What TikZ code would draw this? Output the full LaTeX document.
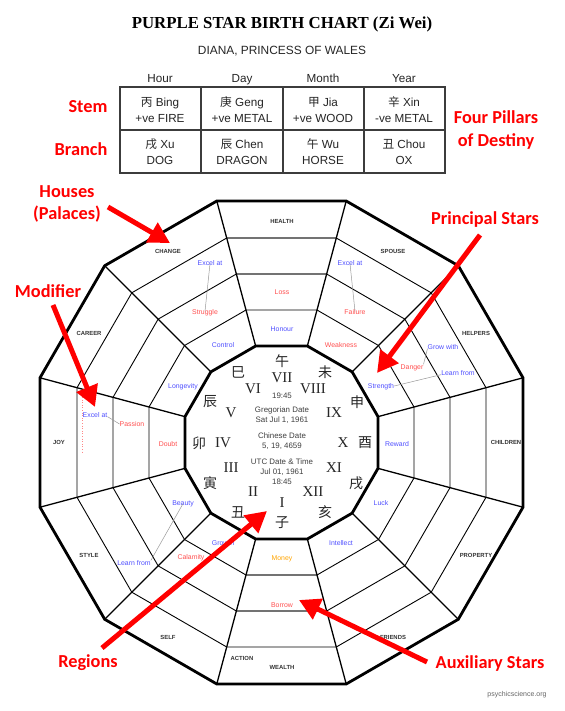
\documentclass[tikz,border=0pt]{standalone}
\usepackage{fontspec}
\setmainfont{Liberation Sans}
\newfontfamily\seriffont{Liberation Serif}
\newfontfamily\calfont{Carlito}
\newfontfamily\cjk{Noto Sans CJK SC}
\usetikzlibrary{arrows.meta}
\definecolor{starblue}{RGB}{80,80,255}
\definecolor{starred}{RGB}{255,80,80}
\definecolor{starorange}{RGB}{255,165,0}
\definecolor{linegray}{RGB}{115,115,115}
\definecolor{annred}{RGB}{255,0,0}
\definecolor{tablegray}{RGB}{60,60,60}
\tikzset{
  house/.style={font=\fontsize{5.9}{6}\selectfont\bfseries, text=black!80, inner sep=0pt, text height=4.2pt, text depth=0pt},
  sb/.style={font=\fontsize{6.9}{7}\selectfont, text=starblue, inner sep=0pt, text height=4.9pt, text depth=0pt},
  sr/.style={sb, text=starred},
  so/.style={sb, text=starorange},
  ann/.style={font=\calfont\bfseries\fontsize{18.3}{22.5}\selectfont, text=annred, align=center, inner sep=0pt},
  annarrow/.style={draw=annred, line width=5pt, -{Triangle[length=21pt,width=22pt]}},
  cell/.style={font=\fontsize{11.7}{16}\selectfont, text=black!85, align=center, inner sep=0pt},
  hdr/.style={font=\fontsize{11.7}{14}\selectfont, text=black!85, inner sep=0pt, text height=8.4pt, text depth=0pt},
  ctext/.style={font=\fontsize{7.9}{10}\selectfont, text=black!75, align=center, inner sep=0pt},
  roman/.style={font=\seriffont\fontsize{15}{15}\selectfont, text=black!85, inner sep=0pt},
  branch/.style={font=\cjk\fontsize{14}{14}\selectfont, text=black!85, inner sep=0pt},
  ring/.style={line width=0.9pt, draw=black},
  rim/.style={line width=2.8pt, draw=black, line join=miter},
  radial/.style={line width=1.3pt, draw=black},
  grayring/.style={line width=1.6pt, draw=linegray},
  link/.style={draw=black!40, line width=0.5pt},
}
\begin{document}
\begin{tikzpicture}[x=1pt,y=-1pt]
\useasboundingbox (0,0) rectangle (564,711);
\fill[white] (0,0) rectangle (564,711);

% title
\node[font=\seriffont\bfseries\fontsize{16.8}{18}\selectfont, inner sep=0pt] (title) at (282,24) {PURPLE STAR BIRTH CHART (Zi Wei)};
\node[font=\fontsize{11.9}{13}\selectfont, text=black!85, inner sep=0pt] (subtitle) at (282,51) {DIANA, PRINCESS OF WALES};

% table
\node[hdr] (hHour) at (160,78) {Hour};
\node[hdr] (hDay) at (242,78) {Day};
\node[hdr] (hMonth) at (323,78) {Month};
\node[hdr] (hYear) at (404,78) {Year};
\draw[draw=tablegray, line width=1.8pt] (120,87) rectangle (445,173);
\draw[draw=tablegray, line width=1.5pt] (120,130) -- (445,130);
\foreach \xx in {201,283,364} \draw[draw=tablegray, line width=1.5pt] (\xx,87) -- (\xx,173);
\node[cell] (s1) at (160,110) {{\cjk 丙} Bing\\+ve FIRE};
\node[cell] (s2) at (242,110) {{\cjk 庚} Geng\\+ve METAL};
\node[cell] (s3) at (323,110) {{\cjk 甲} Jia\\+ve WOOD};
\node[cell] (s4) at (404,110) {{\cjk 辛} Xin\\-ve METAL};
\node[cell] (b1) at (160,152) {{\cjk 戌} Xu\\DOG};
\node[cell] (b2) at (242,152) {{\cjk 辰} Chen\\DRAGON};
\node[cell] (b3) at (323,152) {{\cjk 午} Wu\\HORSE};
\node[cell] (b4) at (404,152) {{\cjk 丑} Chou\\OX};

% chart geometry
\begin{scope}[shift={(281.5,442.5)}, yscale=-1]
  \foreach \r in {211.71,174.45,137.17} {
    \draw[ring] (15:\r) \foreach \k in {1,...,11}{ -- ({15+30*\k}:\r)} -- cycle;
  }
  % gray ring segments
  \draw[grayring] (75:211.71) -- (105:211.71);
  \draw[grayring] (75:174.45) -- (105:174.45);
  \draw[grayring] (-75:137.17) -- (-105:137.17);
  \draw[grayring] (-75:174.45) -- (-105:174.45);
  \foreach \k in {0,...,11} \draw[radial] ({15+30*\k}:99.9) -- ({15+30*\k}:250.02);
  \draw[rim] (15:250.02) \foreach \k in {1,...,11}{ -- ({15+30*\k}:250.02)} -- cycle;
  \draw[rim] (15:99.9) \foreach \k in {1,...,11}{ -- ({15+30*\k}:99.9)} -- cycle;
\end{scope}

% pink dotted line
\draw[draw=pink!70!red, dotted, line width=0.6pt] (82,397) -- (82,452);

% house labels
\node[house] (hHealth) at (282,221) {HEALTH};
\node[house] (hSpouse) at (393,251) {SPOUSE};
\node[house] (hHelpers) at (476,333) {HELPERS};
\node[house] (hChildren) at (506,442) {CHILDREN};
\node[house] (hProperty) at (476,555) {PROPERTY};
\node[house] (hFriends) at (393,637) {FRIENDS};
\node[house] (hWealth) at (282,667) {WEALTH};
\node[house] (hAction) at (242,658) {ACTION};
\node[house] (hSelf) at (168,637) {SELF};
\node[house] (hStyle) at (89,555) {STYLE};
\node[house] (hJoy) at (59,442) {JOY};
\node[house] (hCareer) at (89,333) {CAREER};
\node[house] (hChange) at (168,251) {CHANGE};

% stars
\node[sb] (exA) at (210,263) {Excel at};
\node[sr] (strug) at (205,312) {Struggle};
\node[sb] (control) at (223,345) {Control};
\node[sr] (loss) at (282,292) {Loss};
\node[sb] (honour) at (282,329) {Honour};
\node[sb] (exB) at (350,263) {Excel at};
\node[sr] (failure) at (355,312) {Failure};
\node[sr] (weak) at (341,345) {Weakness};
\node[sb] (grow) at (443,347) {Grow with};
\node[sr] (danger) at (412,367) {Danger};
\node[sb] (learnA) at (458,373) {Learn from};
\node[sb] (strength) at (381,386) {Strength};
\node[sb] (reward) at (397,444) {Reward};
\node[sb] (luck) at (381,503) {Luck};
\node[sb] (intellect) at (341,543) {Intellect};
\node[so] (money) at (282,558) {Money};
\node[sr] (borrow) at (282,605) {Borrow};
\node[sb] (growth) at (223,543) {Growth};
\node[sr] (calamity) at (191,557) {Calamity};
\node[sb] (learnB) at (134,563) {Learn from};
\node[sb] (beauty) at (183,503) {Beauty};
\node[sr] (doubt) at (168,444) {Doubt};
\node[sb] (longev) at (183,386) {Longevity};
\node[sb] (exC) at (95,415) {Excel at};
\node[sr] (passion) at (132,424) {Passion};

% links between stars
\draw[link] ([yshift=2pt]exA.south) -- ([yshift=-2pt]strug.north);
\draw[link] ([yshift=2pt]exB.south) -- ([yshift=-2pt]failure.north);
\draw[link] ([yshift=1pt]grow.south west) -- (danger.north east);
\draw[link] (strength.east) -- ([yshift=1pt]learnA.south west);
\draw[link] ([yshift=1pt]exC.south east) -- (passion.west);
\draw[link] ([yshift=2pt]beauty.south) -- (learnB.north east);

% center: branches and numerals
\node[branch] (zWu) at (282,361) {午};
\node[branch] (zWei) at (325,372) {未};
\node[branch] (zShen) at (357,402) {申};
\node[branch] (zYou) at (365,443) {酉};
\node[branch] (zXu) at (356,483) {戌};
\node[branch] (zHai) at (325,512) {亥};
\node[branch] (zZi) at (282,523) {子};
\node[branch] (zChou) at (238,512) {丑};
\node[branch] (zYin) at (210,483) {寅};
\node[branch] (zMao) at (199,443) {卯};
\node[branch] (zChen) at (210,402) {辰};
\node[branch] (zSi) at (238,372) {巳};

\node[roman] (r7) at (282,378) {VII};
\node[roman] (r8) at (313,389) {VIII};
\node[roman] (r9) at (334,413) {IX};
\node[roman] (r10) at (343,443) {X};
\node[roman] (r11) at (334,468) {XI};
\node[roman] (r12) at (313,492) {XII};
\node[roman] (r1) at (282,503) {I};
\node[roman] (r2) at (253,492) {II};
\node[roman] (r3) at (231,468) {III};
\node[roman] (r4) at (223,443) {IV};
\node[roman] (r5) at (231,413) {V};
\node[roman] (r6) at (253,389) {VI};

\node[ctext] (time) at (282,396) {19:45};
\node[ctext] (greg) at (282,415) {Gregorian Date\\Sat Jul 1, 1961};
\node[ctext] (chin) at (282,441) {Chinese Date\\5, 19, 4659};
\node[ctext] (utc) at (282,472) {UTC Date \& Time\\Jul 01, 1961\\18:45};

% annotations
\node[ann] (stem) at (88,107) {Stem};
\node[ann] (branchlbl) at (81,149) {Branch};
\node[ann] (pillars) at (496,130) {Four Pillars\\of Destiny};
\node[ann] (houses) at (67,204) {Houses\\(Palaces)};
\node[ann] (modifier) at (48,291) {Modifier};
\node[ann] (principal) at (485,220) {Principal Stars};
\node[ann] (regions) at (88,663) {Regions};
\node[ann] (auxiliary) at (490,664) {Auxiliary Stars};

\coordinate (housesS) at (108,207);
\coordinate (housesT) at (170,243);
\coordinate (modS) at (53,305);
\coordinate (modT) at (95,407);
\coordinate (prinS) at (480,235);
\coordinate (prinT) at (377,373);
\coordinate (regS) at (102,648);
\coordinate (regT) at (267,511);
\coordinate (auxS) at (427,662);
\coordinate (auxT) at (299,600);
\draw[annarrow] (housesS) -- (housesT);
\draw[annarrow] (modS) -- (modT);
\draw[annarrow] (prinS) -- (prinT);
\draw[annarrow] (regS) -- (regT);
\draw[annarrow] (auxS) -- (auxT);

\node[font=\fontsize{7}{8}\selectfont, text=black!60, inner sep=0pt] (credit) at (517,695) {psychicscience.org};
\end{tikzpicture}
\end{document}
